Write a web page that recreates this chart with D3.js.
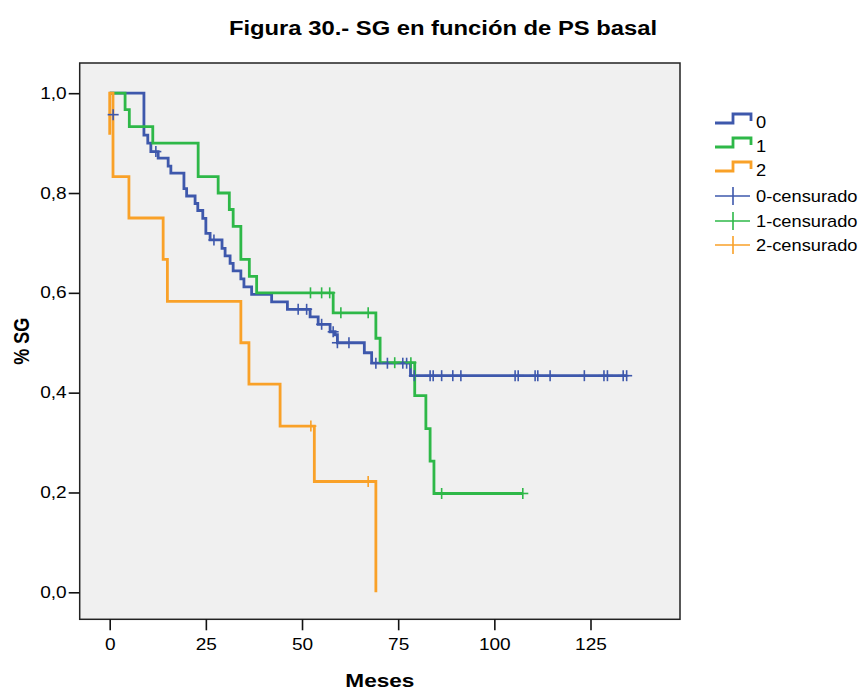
<!DOCTYPE html>
<html>
<head>
<meta charset="utf-8">
<script src="https://cdn.jsdelivr.net/npm/d3@7"></script>
<style>
  html, body { margin: 0; padding: 0; background: #ffffff; }
  svg { display: block; }
  text { font-family: "Liberation Sans", Arial, sans-serif; fill: #000; }
</style>
</head>
<body>
<svg id="chart" width="864" height="691"></svg>
<script>
// ---------------- DATA ----------------
const titleText = "Figura 30.- SG en función de PS basal";
const xLabel = "Meses";
const yLabel = "% SG";
const xTicks = [0, 25, 50, 75, 100, 125];
const yTicks = [0, 0.2, 0.4, 0.6, 0.8, 1.0];
const groups = ["0", "1", "2"];
const legendLabels = ["0", "1", "2", "0-censurado", "1-censurado", "2-censurado"];

// group 0 (step curve vertices: time, survival)
const group0Times = [0, 8.9, 9.9, 10.7, 12.6, 15.2, 15.9, 19.3, 20.0, 22.2, 22.9, 24.2, 25.0, 26.1, 29.2, 30.0, 31.3, 32.1, 34.1, 34.9, 36.9, 42.1, 46.2, 52.1, 54.2, 57.3, 58.6, 59.2, 66.2, 68.1, 78.2, 134.4];
const group0Surv  = [1.0, 0.916, 0.900, 0.883, 0.870, 0.854, 0.840, 0.809, 0.794, 0.779, 0.765, 0.749, 0.719, 0.706, 0.689, 0.674, 0.659, 0.644, 0.628, 0.612, 0.597, 0.582, 0.567, 0.552, 0.537, 0.522, 0.516, 0.500, 0.480, 0.459, 0.434, 0.434];
const group0CensTimes = [0.9, 12.0, 27.1, 49.0, 51.2, 55.1, 58.1, 59.2, 62.2, 69.2, 72.2, 76.2, 77.2, 79.2, 83.3, 84.1, 86.3, 89.2, 91.3, 105.4, 106.2, 110.6, 111.3, 114.5, 123.4, 128.5, 129.4, 133.5, 134.4];
const group0CensSurv  = [0.957, 0.883, 0.706, 0.567, 0.567, 0.537, 0.522, 0.500, 0.500, 0.459, 0.459, 0.459, 0.459, 0.434, 0.434, 0.434, 0.434, 0.434, 0.434, 0.434, 0.434, 0.434, 0.434, 0.434, 0.434, 0.434, 0.434, 0.434, 0.434];

// group 1
const group1Times = [0, 4.0, 5.1, 11.2, 23.0, 28.2, 31.1, 32.1, 34.1, 36.3, 38.2, 58.1, 69.2, 70.3, 79.3, 82.2, 83.3, 84.3, 107.4];
const group1Surv  = [1.0, 0.967, 0.933, 0.900, 0.833, 0.800, 0.767, 0.733, 0.667, 0.633, 0.600, 0.560, 0.509, 0.460, 0.394, 0.328, 0.263, 0.198, 0.198];
const group1CensTimes = [52.2, 55.1, 57.2, 60.1, 67.2, 74.1, 78.3, 86.3, 107.4];
const group1CensSurv  = [0.600, 0.600, 0.600, 0.560, 0.560, 0.460, 0.460, 0.198, 0.198];

// group 2
const group2Times = [0, 0, 0.86, 5.0, 13.9, 15.0, 34.1, 36.2, 44.3, 53.2, 69.2];
const group2Surv  = [0.917, 1.0, 0.833, 0.750, 0.667, 0.583, 0.500, 0.417, 0.333, 0.222, 0.0];
const group2CensTimes = [52.3, 67.2];
const group2CensSurv  = [0.333, 0.222];

const colors = ["#3E58AC", "#2EB848", "#F9A128"];

// ---------------- LAYOUT ----------------
const SX = 1.19; // horizontal stretch of the reference's lettering
const frame = { left: 79.7, right: 680, top: 63, bottom: 619.3 };
const svg = d3.select("#chart");

const x = d3.scaleLinear().domain([0, 125]).range([109.7, 590.5]);
const y = d3.scaleLinear().domain([0, 1]).range([592.3, 93.2]);

// plot background
svg.append("rect")
  .attr("x", frame.left).attr("y", frame.top)
  .attr("width", frame.right - frame.left)
  .attr("height", frame.bottom - frame.top)
  .attr("fill", "#F0F0F0")
  .attr("stroke", "#222").attr("stroke-width", 1.5);

// axes
const fmt = d => d.toFixed(1).replace(".", ",");
const yAxis = svg.append("g")
  .attr("transform", `translate(${frame.left},0)`)
  .call(d3.axisLeft(y).tickValues(yTicks).tickFormat(fmt).tickSize(11).tickPadding(2));
const xAxis = svg.append("g")
  .attr("transform", `translate(0,${frame.bottom})`)
  .call(d3.axisBottom(x).tickValues(xTicks).tickFormat(d3.format("d")).tickSize(11).tickPadding(8));
[yAxis, xAxis].forEach(g => {
  g.select(".domain").remove();
  g.selectAll(".tick line").attr("stroke", "#111").attr("stroke-width", 1.6);
  g.selectAll(".tick text").attr("font-size", 16)
    .attr("font-family", "Liberation Sans, Arial, sans-serif").attr("fill", "#000")
    .each(function () {
      const t = d3.select(this);
      const x0 = +t.attr("x") || 0;
      t.attr("x", x0 / SX).attr("transform", `scale(${SX},1)`);
    });
});

// curves
const line = d3.line().x(d => x(d[0])).y(d => y(d[1])).curve(d3.curveStepAfter);
const curveData = [
  d3.zip(group0Times, group0Surv),
  d3.zip(group1Times, group1Surv),
  d3.zip(group2Times, group2Surv)
];
const censData = [
  d3.zip(group0CensTimes, group0CensSurv),
  d3.zip(group1CensTimes, group1CensSurv),
  d3.zip(group2CensTimes, group2CensSurv)
];

const plot = svg.append("g");
curveData.forEach((pts, i) => {
  plot.append("path")
    .attr("d", line(pts))
    .attr("fill", "none")
    .attr("stroke", colors[i])
    .attr("stroke-width", 2.8)
    .attr("stroke-linejoin", "miter")
    .attr("stroke-linecap", "butt");
});
const arm = 5.5;
censData.forEach((pts, i) => {
  const g = plot.append("g").attr("stroke", colors[i]).attr("stroke-width", 1.6);
  g.selectAll("line.h").data(pts).join("line").attr("class", "h")
    .attr("x1", d => x(d[0]) - arm).attr("x2", d => x(d[0]) + arm)
    .attr("y1", d => y(d[1])).attr("y2", d => y(d[1]));
  g.selectAll("line.v").data(pts).join("line").attr("class", "v")
    .attr("x1", d => x(d[0])).attr("x2", d => x(d[0]))
    .attr("y1", d => y(d[1]) - arm).attr("y2", d => y(d[1]) + arm);
});

// titles
function stretchedText(px, py, size, weight, anchor, str) {
  return svg.append("text")
    .attr("transform", `translate(${px},${py}) scale(${SX},1)`)
    .attr("text-anchor", anchor)
    .attr("font-size", size).attr("font-weight", weight).text(str);
}
stretchedText(443, 35, 20, "bold", "middle", titleText);
stretchedText((frame.left + frame.right) / 2, 687, 19, "bold", "middle", xLabel);
svg.append("text").attr("transform", `translate(29,${(frame.top + frame.bottom) / 2}) rotate(-90) scale(1,${SX})`)
  .attr("text-anchor", "middle")
  .attr("font-size", 18).attr("font-weight", "bold").text(yLabel);

// legend
const legY = [122, 146, 170, 196, 221, 245];
const lx0 = 715, lxm = 733, lx1 = 751;
const leg = svg.append("g");
legendLabels.forEach((lab, i) => {
  const cy = legY[i];
  const c = colors[i % 3];
  if (i < 3) {
    leg.append("path")
      .attr("d", `M${lx0},${cy + 1}H${lxm}V${cy - 8}H${lx1}V${cy - 1}`)
      .attr("fill", "none").attr("stroke", c).attr("stroke-width", 2.8);
  } else {
    leg.append("line").attr("x1", lx0).attr("x2", lx1 - 1).attr("y1", cy).attr("y2", cy)
      .attr("stroke", c).attr("stroke-width", 1.6);
    leg.append("line").attr("x1", lxm).attr("x2", lxm).attr("y1", cy - 9).attr("y2", cy + 9)
      .attr("stroke", c).attr("stroke-width", 1.6);
  }
  leg.append("text")
    .attr("transform", `translate(756,${cy}) scale(${SX * 0.96},1)`)
    .attr("dy", "0.36em")
    .attr("font-size", 16).text(lab);
});
</script>
</body>
</html>
